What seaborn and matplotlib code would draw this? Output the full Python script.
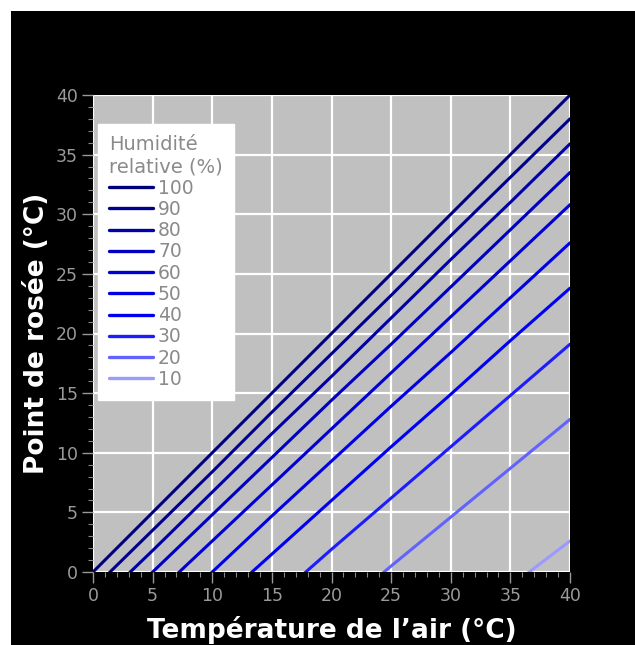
import numpy as np
import pandas as pd
import matplotlib
matplotlib.use("Agg")
import matplotlib.pyplot as plt
import seaborn as sns
from matplotlib.patches import Rectangle

# Air temperature (°C) sample points
temps = [0, 5, 10, 15, 20, 25, 30, 35, 40]
# Relative humidity levels (%)
humidity = [100, 90, 80, 70, 60, 50, 40, 30, 20, 10]
# Dew point (°C) read per humidity level at each temperature
dew_100 = [0.0, 5.0, 10.0, 15.0, 20.0, 25.0, 30.0, 35.0, 40.0]
dew_90 = [-1.4, 3.5, 8.4, 13.4, 18.3, 23.2, 28.2, 33.1, 38.0]
dew_80 = [-3.0, 1.8, 6.7, 11.6, 16.4, 21.3, 26.2, 31.0, 35.9]
dew_70 = [-4.8, 0.0, 4.8, 9.6, 14.4, 19.1, 23.9, 28.7, 33.5]
dew_60 = [-6.9, -2.1, 2.6, 7.3, 12.0, 16.7, 21.4, 26.1, 30.8]
dew_50 = [-9.2, -4.6, 0.0, 4.7, 9.3, 13.9, 18.4, 23.0, 27.6]
dew_40 = [-12.0, -7.5, -3.0, 1.5, 6.0, 10.5, 14.9, 19.4, 23.8]
dew_30 = [-15.6, -11.2, -6.8, -2.5, 1.9, 6.2, 10.5, 14.8, 19.1]
dew_20 = [-20.3, -16.2, -12.0, -7.8, -3.7, 0.5, 4.6, 8.7, 12.8]
dew_10 = [-28.1, -24.2, -20.3, -16.4, -12.6, -8.8, -5.0, -1.2, 2.6]
dew_series = [dew_100, dew_90, dew_80, dew_70, dew_60,
              dew_50, dew_40, dew_30, dew_20, dew_10]
ticks = [0, 5, 10, 15, 20, 25, 30, 35, 40]

colors = ["#00007a", "#00008e", "#0000a6", "#0000c0", "#0000d4",
          "#0000e6", "#0000f4", "#1c1cff", "#6262ff", "#9a9aff"]

rows = []
for rh, ds in zip(humidity, dew_series):
    for t, d in zip(temps, ds):
        rows.append({"T": t, "Td": d, "RH": str(rh)})
df = pd.DataFrame(rows)

sns.set_theme(style="white")
fig = plt.figure(figsize=(6.35, 6.45), dpi=100, facecolor="white")
bg = Rectangle((11 / 635, 0), 1, 1 - 11 / 645, transform=fig.transFigure,
               facecolor="black", edgecolor="none", zorder=-10)
fig.add_artist(bg)
ax = fig.add_axes([93 / 635, 73 / 645, 477 / 635, 477 / 645])
ax.set_zorder(1)
ax.set_facecolor("#c0c0c0")

palette = {str(h): c for h, c in zip(humidity, colors)}
sns.lineplot(data=df, x="T", y="Td", hue="RH", hue_order=[str(h) for h in humidity],
             palette=palette, linewidth=2.2, ax=ax, legend=True)

ax.set_xlim(0, 40)
ax.set_ylim(0, 40)
ax.set_xticks(ticks)
ax.set_yticks(ticks)
ax.set_xticks(range(0, 41), minor=True)
ax.set_yticks(range(0, 41), minor=True)
ax.grid(True, which="major", color="white", linewidth=1.6)
ax.set_axisbelow(True)
for s in ax.spines.values():
    s.set_visible(False)
ax.tick_params(which="major", direction="out", length=8, width=1, color="#999999",
               labelcolor="#9a9a9a", labelsize=12.5, bottom=True, left=True, pad=3)
ax.tick_params(which="minor", direction="out", length=3.5, width=0.8, color="#888888",
               bottom=True, left=True)

ax.set_xlabel("Température de l\u2019air (°C)", color="white", fontsize=19,
              fontweight="bold", labelpad=8)
ax.set_ylabel("Point de rosée (°C)", color="white", fontsize=19,
              fontweight="bold", labelpad=4)

leg = ax.legend(title="Humidité\nrelative (%)", loc="upper left",
                bbox_to_anchor=(0.0105, 0.939), borderaxespad=0, frameon=True,
                fancybox=False, fontsize=13.5, title_fontsize=14, handlelength=2.35,
                handletextpad=0.25, labelspacing=0.12, borderpad=0.6, framealpha=1)
leg.get_frame().set_facecolor("white")
leg.get_frame().set_edgecolor("white")
leg._legend_box.align = "left"
leg.get_title().set_color("#8a8a8a")
for t in leg.get_texts():
    t.set_color("#8a8a8a")
for l in leg.get_lines():
    l.set_linewidth(2.4)

fig.savefig("out.png", dpi=100, facecolor=fig.get_facecolor())
